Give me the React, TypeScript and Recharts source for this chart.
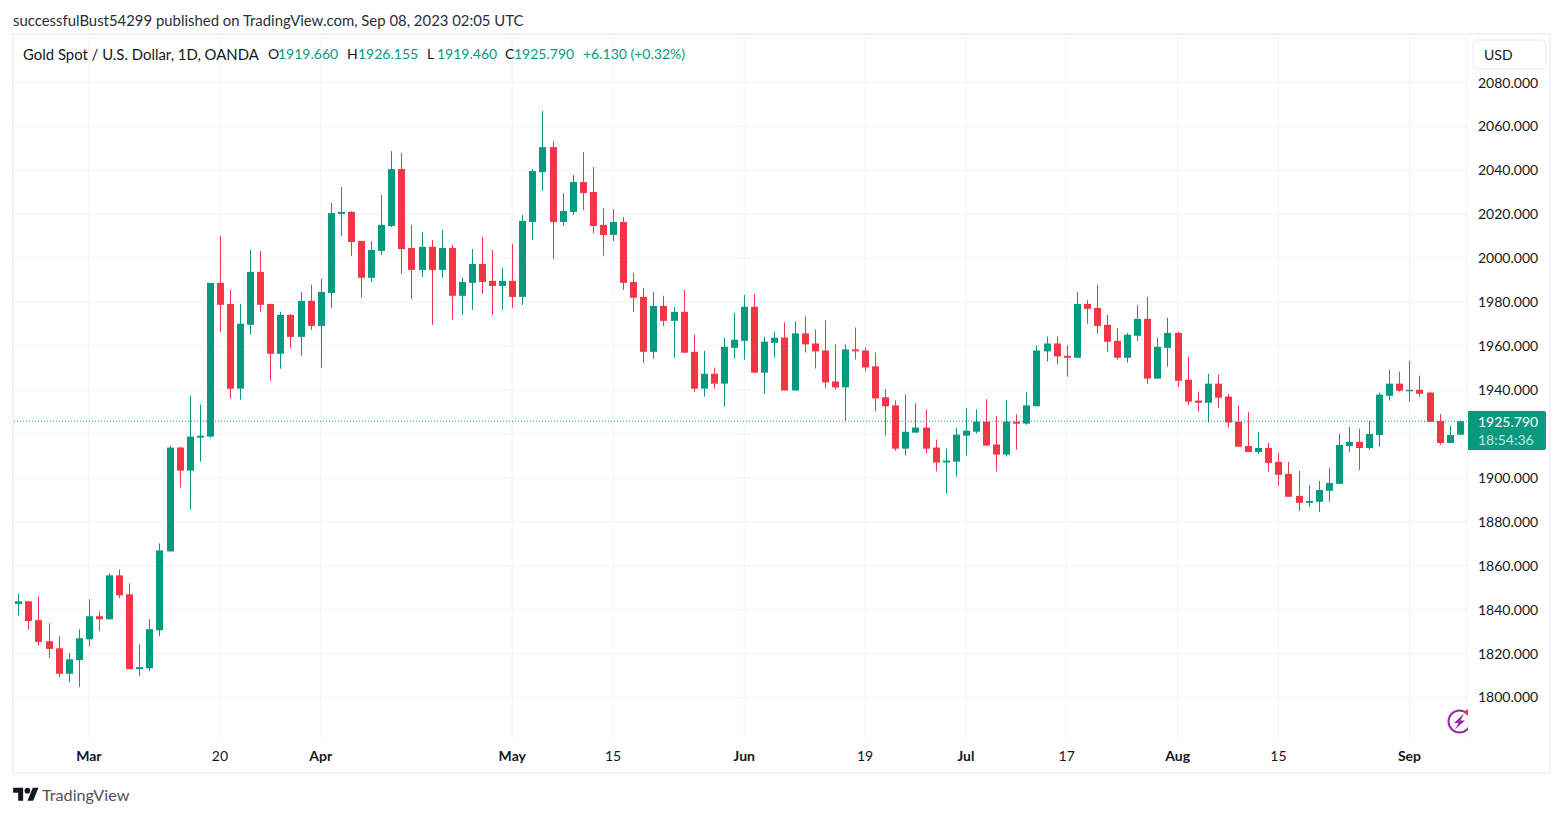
import { Bar, CartesianGrid, ComposedChart, ReferenceLine, XAxis, YAxis } from "recharts";

const opens = [
  1842.6, 1843.8, 1835.2, 1825.6, 1822.4, 1810.8, 1817, 1826.5, 1837, 1835.6,
  1855.6, 1847, 1812.9, 1813.3, 1830.6, 1866.5, 1913.8, 1903.3, 1918.3, 1918.8,
  1988.8, 1979.2, 1940.6, 1969.7, 1993.8, 1979.2, 1956.5, 1974.2, 1964.2, 1980.6,
  1969.2, 1984.2, 2020.2, 2021.1, 2007.9, 1991.1, 2003.3, 2014.7, 2040.6, 2004.7,
  1994.7, 2005.2, 1994.7, 2004.7, 1982.9, 1988.8, 1997.4, 1989.7, 1987.4, 1989.7,
  1982.4, 2016.5, 2039.2, 2050.6, 2016.5, 2021.1, 2034.7, 2030.2, 2015.2, 2010.6,
  2016.5, 1989.2, 1982.4, 1957.4, 1978.3, 1971.5, 1975.6, 1957.4, 1940.6, 1947.4,
  1942.9, 1959.2, 1962.4, 1977.9, 1947.9, 1961.5, 1963.9, 1939.8, 1965.8, 1961.2,
  1958, 1943.9, 1941.2, 1958.5, 1958, 1950.8, 1936.7, 1933, 1913.3, 1920.6,
  1922.9, 1913.8, 1907, 1907.4, 1919.2, 1921, 1925.6, 1915.2, 1910.6, 1925.6,
  1924.7, 1932.6, 1957.6, 1961.2, 1955.6, 1954.7, 1979.2, 1977.4, 1969.7, 1962.4,
  1954.7, 1964.7, 1972.4, 1945.2, 1959.2, 1966, 1944.7, 1935.2, 1934.2, 1942.9,
  1937, 1925.6, 1914.5, 1911.8, 1913.6, 1907.3, 1901.8, 1891.8, 1888.6, 1889.1,
  1894.1, 1897.3, 1914.5, 1916.4, 1913.6, 1919.5, 1937.4, 1942.9, 1939.9, 1940.1,
  1938.8, 1925.9, 1915.9, 1919.66,
];
const highs = [
  1847.3, 1843.8, 1846.1, 1833.8, 1827.9, 1820.2, 1831.1, 1844.7, 1839.2, 1856.5,
  1858.3, 1852, 1824.2, 1835.6, 1870.2, 1914.7, 1914.2, 1937.4, 1933.3, 1988.8,
  2010.2, 1985.6, 1979.2, 2003.8, 2003.3, 1979.2, 1975.6, 1974.7, 1984.7, 1987.9,
  1990.6, 2025.2, 2032.4, 2021.5, 2007.9, 2007.9, 2028.8, 2048.8, 2047.9, 2015.2,
  2012, 2008.3, 2012.9, 2006.1, 1991.1, 2004.2, 2009.7, 2003.8, 1995.6, 2006.5,
  2019.7, 2040.6, 2067, 2053.3, 2029.7, 2037.9, 2048.3, 2041.5, 2022.9, 2022.4,
  2018.8, 1993.3, 1986.5, 1984.7, 1982.9, 1977.9, 1985.6, 1965.2, 1957.9, 1950.2,
  1963.8, 1975.2, 1983.3, 1983.8, 1964.2, 1966.5, 1970.8, 1971.2, 1973.5, 1967.6,
  1971.7, 1960.8, 1960.8, 1968.5, 1959.4, 1957.1, 1940.3, 1935.3, 1938, 1933.9,
  1931.2, 1917.4, 1913.3, 1922.9, 1931.7, 1931.2, 1935.8, 1928, 1935.3, 1928.9,
  1938.9, 1960.3, 1964.4, 1964.4, 1960.2, 1984.7, 1981, 1987.9, 1974.2, 1968.3,
  1966, 1978.8, 1982.4, 1963.8, 1972.9, 1966.5, 1955.2, 1939.2, 1947.4, 1947,
  1938.3, 1932.9, 1930, 1920.9, 1915.9, 1911.4, 1907.3, 1903.2, 1896.8, 1898.6,
  1904.5, 1920, 1923.2, 1922.3, 1925.9, 1938.8, 1949.2, 1948.3, 1953.3, 1946.5,
  1939.2, 1929.1, 1923.6, 1926.155,
];
const lows = [
  1837.4, 1830.8, 1823.8, 1817.9, 1809.2, 1807, 1804.7, 1823.3, 1830.2, 1835.6,
  1845.2, 1812.9, 1809.7, 1812, 1827.9, 1866.5, 1895.6, 1885.6, 1907.4, 1918.3,
  1966.5, 1936.1, 1935.6, 1965.2, 1975.6, 1944.2, 1949.7, 1959.2, 1955.6, 1967.4,
  1950.2, 1977.4, 2010.2, 2001.1, 1982, 1989.2, 2001.5, 2014.2, 1992.9, 1981.5,
  1991.5, 1969.7, 1991.1, 1972, 1974.2, 1976.5, 1983.8, 1974.2, 1976.5, 1977.4,
  1978.8, 2008.3, 2030.6, 1999.7, 2014.7, 2019.7, 2022, 2011.5, 2001.1, 2007.9,
  1985.6, 1975.6, 1952.4, 1954.2, 1969.2, 1954.7, 1957, 1939.2, 1937, 1940.6,
  1932.4, 1954.2, 1953.8, 1947.9, 1938.3, 1954.7, 1939.8, 1939.8, 1957.1, 1949.8,
  1940.8, 1940.3, 1925.8, 1953.9, 1948.5, 1930.3, 1919.2, 1912.4, 1910.2, 1920.6,
  1911.1, 1902.9, 1892.9, 1900.6, 1910.2, 1920.2, 1914.7, 1902.9, 1909.7, 1912.9,
  1924.2, 1932.6, 1953, 1951.7, 1946.1, 1954.7, 1970.2, 1965.6, 1957.4, 1953.8,
  1952.4, 1962.4, 1942.9, 1945.2, 1950.6, 1941.5, 1933.3, 1930.2, 1925.2, 1932,
  1922.9, 1914.2, 1911.8, 1910.9, 1902.7, 1896.4, 1891.4, 1885, 1886.8, 1884.5,
  1889.1, 1897.3, 1911.8, 1903.6, 1912.7, 1914.1, 1935.2, 1939.2, 1934.7, 1937,
  1925.5, 1915, 1915.9, 1919.46,
];
const closes = [
  1843.8, 1834.8, 1825.3, 1822.1, 1810.8, 1817.4, 1827, 1837, 1835.6, 1855.6,
  1846.5, 1812.9, 1813.8, 1831.1, 1867, 1913.8, 1903.3, 1918.8, 1919.2, 1988.8,
  1978.8, 1940.6, 1970.2, 1993.8, 1978.8, 1956.5, 1974.2, 1964.2, 1980.6, 1969.2,
  1984.7, 2020.6, 2021.1, 2007.4, 1991.1, 2003.8, 2015.2, 2040.6, 2004.2, 1994.7,
  2005.2, 1994.7, 2004.7, 1982.9, 1989.2, 1997.4, 1989.2, 1987.4, 1989.7, 1982.4,
  2017, 2039.7, 2050.6, 2016.5, 2021.5, 2034.7, 2029.7, 2014.7, 2010.6, 2016.5,
  1988.8, 1982, 1957.4, 1978.3, 1971.5, 1975.6, 1957, 1940.6, 1947.4, 1942.9,
  1959.7, 1962.9, 1977.9, 1947.9, 1962, 1963.8, 1939.8, 1965.8, 1960.8, 1957.6,
  1943.5, 1941.2, 1958.5, 1957.6, 1950.3, 1936.2, 1932.6, 1913.3, 1921, 1922.9,
  1913.3, 1907, 1907.9, 1919.7, 1921.5, 1925.6, 1914.7, 1910.6, 1925.6, 1924.7,
  1933, 1958, 1961.2, 1955.3, 1954.7, 1979.2, 1977, 1969.2, 1962, 1954.7,
  1965.2, 1972.4, 1945.2, 1959.7, 1966, 1944.2, 1934.7, 1934.2, 1942.9, 1936.5,
  1925.2, 1914.2, 1911.8, 1913.6, 1906.8, 1901.4, 1891.4, 1888.6, 1889.5, 1894.5,
  1897.7, 1915, 1916.4, 1913.6, 1920, 1937.9, 1942.9, 1939.7, 1940.1, 1938.3,
  1925.5, 1915.9, 1919.5, 1925.79,
];

// which candle each time label sits under
const tickSlots = [7, 20, 30, 49, 59, 72, 84, 94, 104, 115, 125, 138];
const tickLabels = ["Mar", "20", "Apr", "May", "15", "Jun", "19", "Jul", "17", "Aug", "15", "Sep"];
const priceTicks = [
  1800, 1820, 1840, 1860, 1880, 1900, 1920, 1940, 1960, 1980, 2000, 2020, 2040, 2060, 2080,
];
// this tick's label is covered by the last price tag in the reference
const hiddenPriceLabel = 1920;
const lastClose = 1925.79;

const data = opens.map((open, slot) => ({
  slot,
  open,
  high: highs[slot],
  low: lows[slot],
  close: closes[slot],
}));

const UP = "#089981";
const DOWN = "#f23645";
const INK = "#131722";
const GRID = "#f2f2f3";
const FRAME = "#f0f3fa";
const FONT = "Lato, sans-serif";

function Candle(props: any) {
  const { x, y, width, height, payload } = props;
  const { open, high, low, close } = payload;
  const yOf = (v: number) => y + ((high - v) / (high - low)) * height;
  const color = close >= open ? UP : DOWN;
  const top = yOf(Math.max(open, close));
  const bottom = yOf(Math.min(open, close));
  const mid = Math.round(x + width / 2 - 0.5);
  return (
    <g>
      <rect x={mid} y={y} width={1} height={height} fill={color} />
      <rect x={mid - 3} y={top} width={7} height={Math.max(bottom - top, 1.5)} fill={color} />
    </g>
  );
}

function TimeTick({ x, y, payload }: any) {
  const label = tickLabels[tickSlots.indexOf(payload.value)];
  const month = label.length > 2;
  return (
    <text
      x={x}
      y={y}
      textAnchor="middle"
      dominantBaseline="middle"
      fontFamily={FONT}
      fontSize={14}
      fontWeight={month ? 700 : 400}
      fill={INK}
    >
      {label}
    </text>
  );
}

const abs = (left: number, top: number, extra: any = {}) => ({
  position: "absolute" as const,
  left,
  top,
  lineHeight: "20px",
  whiteSpace: "nowrap" as const,
  ...extra,
});

const legend: Array<[number, string, string]> = [
  [268, "O", INK],
  [278, "1919.660", UP],
  [347, "H", INK],
  [358, "1926.155", UP],
  [427, "L", INK],
  [437, "1919.460", UP],
  [505, "C", INK],
  [514, "1925.790", UP],
  [583, "+6.130 (+0.32%)", UP],
];

export default function App() {
  return (
    <div
      style={{
        position: "absolute",
        left: 0,
        top: 0,
        width: 1563,
        height: 817,
        background: "#fff",
        overflow: "hidden",
        fontFamily: FONT,
        fontSize: 14,
        color: INK,
      }}
    >
      <div style={abs(13, 9.5, { fontSize: 14.9, color: "#2a2e39" })}>
        successfulBust54299 published on TradingView.com, Sep 08, 2023 02:05 UTC
      </div>

      <div
        style={{
          position: "absolute",
          left: 12,
          top: 33,
          width: 1535,
          height: 737,
          border: `2px solid ${FRAME}`,
        }}
      />
      <div style={{ position: "absolute", left: 14, top: 38, width: 1454, height: 1, background: GRID }} />

      <div style={{ position: "absolute", left: 0, top: 0 }}>
        <ComposedChart
          width={1563}
          height={817}
          data={data}
          margin={{ top: 38, right: 15, bottom: 45, left: 13 }}
        >
          <CartesianGrid stroke={GRID} horizontalValues={priceTicks} />
          <XAxis
            dataKey="slot"
            ticks={tickSlots}
            interval={0}
            height={35}
            padding={{ left: 0.3, right: 2.1 }}
            axisLine={false}
            tickLine={false}
            tickMargin={14}
            tick={<TimeTick />}
          />
          <YAxis
            orientation="right"
            width={81}
            domain={[1782, 2100.3]}
            ticks={priceTicks}
            interval={0}
            axisLine={false}
            tickLine={false}
            tickSize={0}
            tickMargin={11}
            tickFormatter={(v: number) => (v === hiddenPriceLabel ? "" : v.toFixed(3))}
            tick={{ fontSize: 14, fill: INK, fontFamily: FONT }}
          />
          <Bar
            dataKey={(d: any) => [d.low, d.high]}
            barSize={7}
            isAnimationActive={false}
            shape={<Candle />}
          />
          <ReferenceLine y={lastClose} stroke={UP} strokeDasharray="1 2" />
        </ComposedChart>
      </div>

      <div style={abs(23, 44, { fontSize: 14.9 })}>Gold Spot / U.S. Dollar, 1D, OANDA</div>
      {legend.map(([left, text, color]) => (
        <div key={left} style={abs(left, 44, { color })}>
          {text}
        </div>
      ))}

      <div
        style={{
          position: "absolute",
          left: 1472,
          top: 39,
          width: 71,
          height: 27,
          border: `2px solid ${FRAME}`,
          borderRadius: 6,
        }}
      />
      <div style={abs(1484, 44.5)}>USD</div>

      <div
        style={{
          position: "absolute",
          left: 1468,
          top: 411,
          width: 78,
          height: 39,
          background: UP,
          borderRadius: "0 2px 2px 0",
        }}
      />
      <div style={abs(1478, 414, { color: "#fff", lineHeight: "16px" })}>1925.790</div>
      <div style={abs(1478, 432, { color: "#fff", opacity: 0.75, lineHeight: "16px" })}>18:54:36</div>

      <svg style={{ position: "absolute", left: 1440, top: 700 }} width={28} height={42}>
        <circle cx={19.5} cy={21.5} r={11} fill="none" stroke="#9c27b0" strokeWidth={2} />
        <path d="M24 13.5 L14 23 L18.5 23 L15 29.5 L25 20.5 L20.5 20.5 Z" fill="#9c27b0" />
        <circle cx={27.5} cy={12} r={2.5} fill="#f23645" />
      </svg>

      <svg style={{ position: "absolute", left: 13, top: 785 }} width={26} height={20} viewBox="0 0 36 28">
        <path d="M14 22H7V11H0V4h14v18zM28 22h-8l7.5-18h8L28 22z" fill={INK} />
        <circle cx={20} cy={8} r={4} fill={INK} />
      </svg>
      <div style={abs(42, 785, { fontSize: 16.2, color: "#50535e" })}>TradingView</div>
    </div>
  );
}
